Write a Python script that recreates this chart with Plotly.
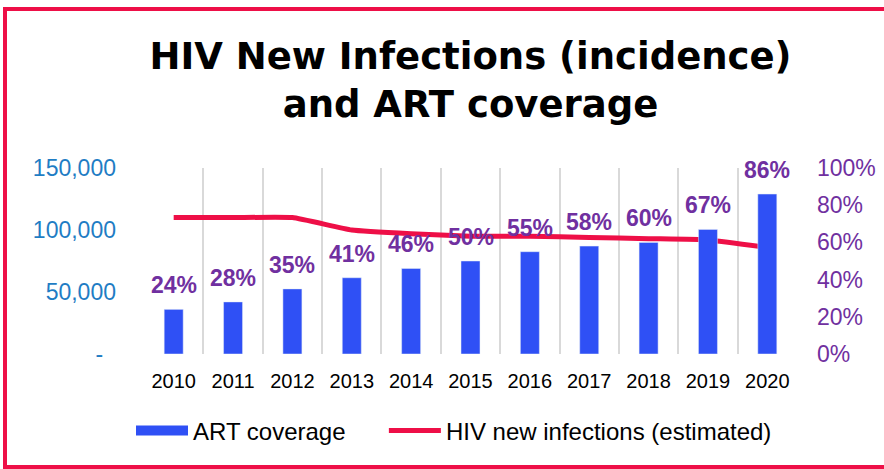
import plotly.graph_objects as go

years = ["2010", "2011", "2012", "2013", "2014", "2015", "2016", "2017", "2018", "2019", "2020"]
art_coverage = [0.24, 0.28, 0.35, 0.41, 0.46, 0.50, 0.55, 0.58, 0.60, 0.67, 0.86]
new_infections = [110000, 110000, 110000, 100000, 97000, 95000, 95000, 94000, 93000, 92000, 86000]
left_tickvals = [0, 50000, 100000, 150000]
left_ticktext = ["-\u00a0\u00a0", "50,000", "100,000", "150,000"]
right_tickvals = [0, 0.2, 0.4, 0.6, 0.8, 1.0]

BLUE = "#2F50F5"
RED = "#EE0F47"
PURPLE = "#7030A0"
AXBLUE = "#1F7DC4"
FONT = "Liberation Sans, Arial, sans-serif"
TFONT = "DejaVu Sans, Liberation Sans, Arial, sans-serif"
NBSP = "\u00a0"

W, H = 884, 469
L, R, T, B = 144, 87, 168, 115
pw, ph = W - L - R, H - T - B

fig = go.Figure()
fig.add_trace(go.Bar(x=years, y=art_coverage, yaxis="y2", marker_color=BLUE,
                     showlegend=False, hoverinfo="skip"))
fig.add_trace(go.Scatter(x=years[:1], y=[None], mode="lines", name="ART coverage" + NBSP * 5,
                         line=dict(color=BLUE, width=11), yaxis="y2"))
fig.add_trace(go.Scatter(x=years, y=new_infections, mode="lines", name="HIV new infections (estimated)",
                         line=dict(color=RED, width=5, shape="spline", smoothing=0.4)))

for i, v in enumerate(art_coverage):
    fig.add_annotation(x=i, y=v, yref="y2", text=f"<b>{round(v*100)}%</b>", showarrow=False,
                       yanchor="bottom", yshift=9, font=dict(size=23, color=PURPLE, family=FONT))

def px2paper_x(px):
    return (px - L) / pw

def px2paper_y(py):
    return (H - B - py) / ph

fig.add_shape(type="rect", xref="paper", yref="paper",
              x0=px2paper_x(5), x1=px2paper_x(900), y0=px2paper_y(467), y1=px2paper_y(9),
              line=dict(color=RED, width=4), fillcolor="rgba(0,0,0,0)", layer="above")

fig.update_layout(
    width=W, height=H,
    margin=dict(l=L, r=R, t=T, b=B, autoexpand=False),
    paper_bgcolor="white", plot_bgcolor="white",
    font=dict(family=FONT, color="black"),
    title=dict(text="<b>HIV New Infections (incidence)<br>and ART coverage</b>",
               font=dict(size=37, color="black", family=TFONT),
               x=0.5, xref="paper", xanchor="center",
               y=1 - 69 / H, yref="container", yanchor="middle"),
    bargap=0.68,
    xaxis=dict(type="category", categoryorder="array", categoryarray=years, range=[-0.5, 10.5],
               tickson="boundaries", showgrid=True, gridcolor="#D9D9D9", gridwidth=2,
               ticks="", showline=False, zeroline=False, tickangle=0,
               tickfont=dict(size=20, color="black"), ticklabelstandoff=13),
    yaxis=dict(range=[0, 150000], tickvals=left_tickvals, ticktext=left_ticktext,
               showgrid=False, zeroline=False, showline=False, ticks="",
               tickfont=dict(size=23, color=AXBLUE), ticklabelstandoff=27),
    yaxis2=dict(range=[0, 1], overlaying="y", side="right", tickvals=right_tickvals,
                tickformat=".0%", showgrid=False, zeroline=False, showline=False, ticks="",
                tickfont=dict(size=23, color=PURPLE), ticklabelstandoff=19),
    legend=dict(orientation="h", xref="container", yref="container", x=131 / W, y=1 - 431 / H,
                xanchor="left", yanchor="middle", itemwidth=52,
                font=dict(size=24, color="black"), bgcolor="rgba(0,0,0,0)"),
    hovermode=False,
)

fig.write_html("out.html", config={"displayModeBar": False},
               post_script="document.body.style.margin='0px';")
